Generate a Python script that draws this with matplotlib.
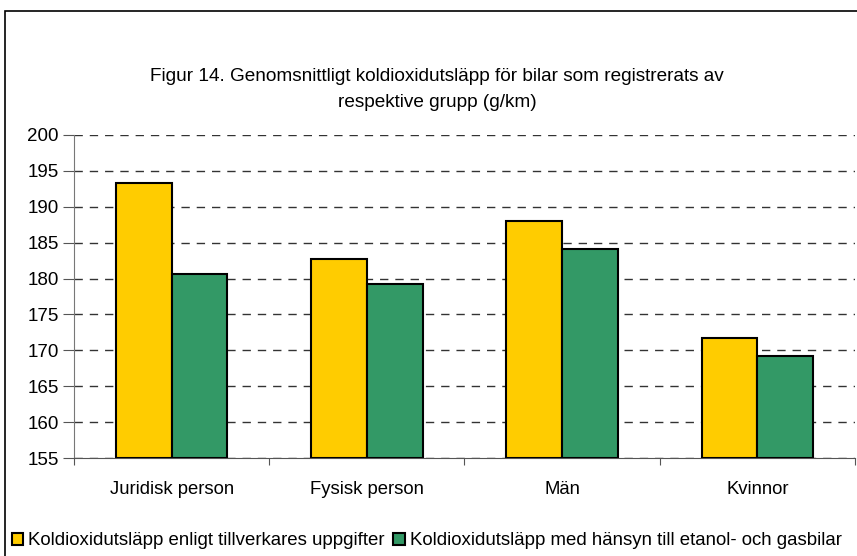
import matplotlib.pyplot as plt
import numpy as np
from matplotlib.patches import Rectangle

plt.rcParams['font.family'] = ['Liberation Sans', 'DejaVu Sans']

categories = ['Juridisk person', 'Fysisk person', 'Män', 'Kvinnor']
tillverkare = [193.3, 182.7, 188.0, 171.8]
etanol_gas = [180.7, 179.3, 184.1, 169.2]
labels = ['Koldioxidutsläpp enligt tillverkares uppgifter',
          'Koldioxidutsläpp med hänsyn till etanol- och gasbilar']
colors = ['#FFCC00', '#339966']

fig = plt.figure(figsize=(8.57, 5.56), dpi=100)
ax = fig.add_axes([0.0863, 0.1757, 0.9114, 0.582])

# frame round the whole chart
fig.patches.append(Rectangle((0.006, -0.05), 1.2, 1.05 - 11/556, transform=fig.transFigure,
                             fill=False, edgecolor='black', linewidth=1.2))

x = np.arange(len(categories))
w = 0.285
b1 = ax.bar(x - w/2, [v - 155 for v in tillverkare], w, bottom=155, color=colors[0],
            edgecolor='black', linewidth=1.5, label=labels[0], zorder=3)
b2 = ax.bar(x + w/2, [v - 155 for v in etanol_gas], w, bottom=155, color=colors[1],
            edgecolor='black', linewidth=1.5, label=labels[1], zorder=3)

ax.set_ylim(155, 200)
ax.set_xlim(-0.5, len(categories) - 0.5)
ax.set_yticks(range(155, 201, 5))
ax.yaxis.grid(True, linestyle=(0, (6, 5)), color='#333333', linewidth=1)
ax.set_axisbelow(True)

ax.set_xticks(np.arange(len(categories) + 1) - 0.5)
ax.set_xticklabels([])
ax.set_xticks(x, minor=True)
ax.set_xticklabels(categories, minor=True, fontsize=13.3)
ax.tick_params(axis='x', which='minor', length=0, pad=16)
ax.tick_params(axis='x', which='major', length=5, color='#555555')
ax.tick_params(axis='y', length=8, color='#555555', labelsize=13.5, pad=3)

for s in ['top', 'right']:
    ax.spines[s].set_visible(False)
ax.spines['left'].set_color('#777777')
ax.spines['bottom'].set_color('#555555')

fig.text(0.510, 0.862, 'Figur 14. Genomsnittligt koldioxidutsläpp för bilar som registrerats av',
         ha='center', va='center', fontsize=13.7)
fig.text(0.510, 0.815, 'respektive grupp (g/km)', ha='center', va='center', fontsize=13.7)

fig.legend(handles=[b1, b2], labels=labels, loc='center left', bbox_to_anchor=(0.005, 0.027),
           ncol=2, frameon=False, fontsize=13.4, handlelength=0.6, handleheight=0.6,
           handletextpad=0.3, columnspacing=0.45, borderaxespad=0)

fig.savefig('out.png', dpi=100)
